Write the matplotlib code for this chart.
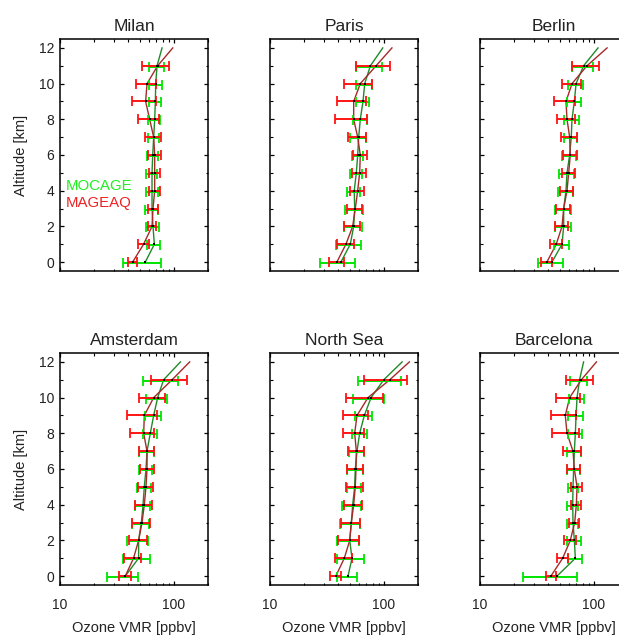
import matplotlib
matplotlib.use("Agg")
import matplotlib.pyplot as plt
import matplotlib.transforms as mtransforms
from matplotlib.ticker import LogLocator, NullFormatter, FixedLocator, MultipleLocator

plt.rcParams['font.family'] = ['Liberation Sans', 'DejaVu Sans']

# ---------------- data ----------------
altitudes = [0, 1, 2, 3, 4, 5, 6, 7, 8, 9, 10, 11, 12]   # km (line), error bars/dots at 0..11
cities = ["Milan", "Paris", "Berlin", "Amsterdam", "North Sea", "Barcelona"]

milan_mocage = [56.2, 67.5, 65.7, 64.4, 64.4, 64.4, 65.3, 66.6, 68.0, 68.9, 69.4, 71.3, 78.9]
milan_mocage_err = [20.5, 8.8, 8.8, 8.1, 7.6, 7.5, 7.0, 7.7, 8.3, 8.7, 9.2, 11.0]
milan_mageaq = [43.5, 54.3, 64.4, 65.7, 68.0, 68.0, 68.0, 66.6, 61.4, 56.6, 58.2, 72.2, 98.0]
milan_mageaq_err = [4.1, 6.0, 4.8, 6.5, 7.3, 8.0, 9.0, 10.6, 12.9, 13.5, 11.9, 19.2]

paris_mocage = [42.0, 50.8, 54.4, 55.5, 55.0, 57.4, 59.0, 60.2, 62.2, 65.7, 68.0, 76.3, 98.0]
paris_mocage_err = [14.3, 12.5, 9.7, 9.7, 7.3, 7.1, 6.8, 9.3, 8.9, 8.8, 10.9, 19.3]
paris_mageaq = [38.7, 46.5, 53.3, 56.2, 59.0, 61.4, 62.2, 59.0, 54.4, 54.4, 62.2, 85.6, 118.0]
paris_mageaq_err = [5.8, 7.8, 8.8, 8.4, 8.0, 8.3, 8.4, 10.9, 17.2, 15.9, 17.3, 28.7]

berlin_mocage = [42.9, 52.6, 54.4, 54.4, 57.0, 58.2, 61.4, 63.4, 64.4, 67.5, 69.9, 81.4, 109.0]
berlin_mocage_err = [10.3, 8.3, 9.0, 8.6, 8.3, 8.8, 8.7, 8.1, 9.1, 9.5, 10.2, 17.6]
berlin_mageaq = [38.7, 46.8, 52.6, 54.4, 58.2, 60.2, 62.2, 61.4, 58.2, 57.0, 64.4, 87.2, 131.0]
berlin_mageaq_err = [4.0, 5.9, 6.6, 8.0, 7.5, 7.6, 8.9, 9.4, 10.9, 12.1, 12.3, 23.0]

amsterdam_mocage = [37.5, 49.1, 49.1, 51.9, 53.7, 55.1, 57.0, 58.2, 62.2, 66.6, 72.2, 81.4, 114.5]
amsterdam_mocage_err = [11.4, 13.0, 10.5, 9.1, 7.6, 7.4, 7.7, 8.8, 8.9, 11.1, 15.5, 27.8]
amsterdam_mageaq = [37.5, 44.3, 49.1, 52.6, 55.1, 57.0, 58.2, 58.2, 54.4, 55.1, 66.6, 96.7, 138.0]
amsterdam_mageaq_err = [4.4, 7.5, 8.7, 9.4, 9.5, 8.7, 8.2, 9.2, 13.0, 16.0, 17.5, 33.0]

northsea_mocage = [48.5, 52.6, 50.2, 51.9, 53.3, 55.5, 56.2, 58.2, 61.4, 67.5, 77.3, 100.0, 145.0]
northsea_mocage_err = [9.8, 14.0, 11.0, 10.3, 10.0, 7.8, 9.1, 9.2, 9.3, 12.1, 23.8, 41.0]
northsea_mageaq = [37.9, 45.0, 50.2, 51.9, 54.4, 56.2, 57.0, 57.4, 55.5, 58.2, 72.7, 112.9, 168.0]
northsea_mageaq_err = [4.1, 7.7, 10.4, 9.6, 9.9, 9.2, 9.2, 9.2, 12.0, 14.3, 26.0, 46.0]

barcelona_mocage = [47.5, 68.9, 67.5, 65.7, 65.3, 65.7, 66.6, 67.5, 68.9, 69.9, 71.3, 75.0, 81.4]
barcelona_mocage_err = [23.4, 10.1, 9.7, 7.0, 7.0, 6.6, 8.5, 9.8, 9.7, 10.1, 10.6, 13.1]
barcelona_mageaq = [42.0, 53.3, 62.2, 68.0, 70.3, 71.3, 67.5, 65.7, 58.2, 56.2, 61.4, 77.8, 105.6]
barcelona_mageaq_err = [4.2, 5.5, 7.4, 6.9, 7.2, 7.7, 8.9, 11.8, 15.3, 13.9, 14.4, 20.9]

series = {
    "Milan": (milan_mocage, milan_mocage_err, milan_mageaq, milan_mageaq_err),
    "Paris": (paris_mocage, paris_mocage_err, paris_mageaq, paris_mageaq_err),
    "Berlin": (berlin_mocage, berlin_mocage_err, berlin_mageaq, berlin_mageaq_err),
    "Amsterdam": (amsterdam_mocage, amsterdam_mocage_err, amsterdam_mageaq, amsterdam_mageaq_err),
    "North Sea": (northsea_mocage, northsea_mocage_err, northsea_mageaq, northsea_mageaq_err),
    "Barcelona": (barcelona_mocage, barcelona_mocage_err, barcelona_mageaq, barcelona_mageaq_err),
}

# ---------------- figure ----------------
W, H = 619, 635
fig = plt.figure(figsize=(W / 100, H / 100), dpi=100)

col_left = [60, 270, 480]
row_top = [39, 353]
ax_w, ax_h = 148, 232

TEXT = '#222222'
LINE_GREEN = '#1f8a2a'
LINE_RED = '#a52a2a'
ERR_GREEN = '#00e600'
ERR_RED = '#ff1414'

for idx, city in enumerate(cities):
    r, c = divmod(idx, 3)
    ax = fig.add_axes([col_left[c] / W, 1 - (row_top[r] + ax_h) / H, ax_w / W, ax_h / H])
    moc, moc_err, mag, mag_err = series[city]
    n = len(moc_err)
    lv = altitudes[:n]

    ax.plot(moc, altitudes, color=LINE_GREEN, lw=1.0, zorder=2)
    ax.plot(mag, altitudes, color=LINE_RED, lw=1.0, zorder=2)

    off_g = mtransforms.offset_copy(ax.transData, fig=fig, x=0, y=-1.0, units='dots')
    ax.errorbar(moc[:n], lv, xerr=moc_err, fmt='none', ecolor=ERR_GREEN,
                elinewidth=1.4, capsize=3.8, capthick=1.3, zorder=3, transform=off_g)
    ax.errorbar(mag[:n], lv, xerr=mag_err, fmt='none', ecolor=ERR_RED,
                elinewidth=1.4, capsize=3.8, capthick=1.3, zorder=4)
    ax.plot(moc[:n], lv, 's', color='black', ms=2.1, mew=0, zorder=5)
    ax.plot(mag[:n], lv, 's', color='black', ms=2.1, mew=0, zorder=5)

    ax.set_xscale('log')
    ax.set_xlim(10, 200)
    ax.set_ylim(-0.5, 12.5)
    ax.xaxis.set_major_locator(FixedLocator([10, 100]))
    ax.xaxis.set_minor_locator(LogLocator(base=10, subs=range(2, 10)))
    ax.xaxis.set_minor_formatter(NullFormatter())
    ax.yaxis.set_major_locator(MultipleLocator(2))
    ax.yaxis.set_minor_locator(MultipleLocator(1))

    ax.tick_params(which='both', direction='in', top=True, right=True, colors='black',
                   labelcolor=TEXT, labelsize=10)
    ax.tick_params(which='major', length=3.0, width=0.9)
    ax.tick_params(which='minor', length=1.8, width=0.8)
    ax.tick_params(axis='x', pad=9.5)
    ax.tick_params(axis='y', pad=4)
    for sp in ax.spines.values():
        sp.set_linewidth(1.1)

    if r == 1:
        ax.set_xticklabels(['10', '100'])
        ax.set_xlabel('Ozone VMR [ppbv]', fontsize=10.5, color=TEXT, labelpad=6)
    else:
        ax.tick_params(axis='x', labelbottom=False)
    if c == 0:
        ax.set_ylabel('Altitude [km]', fontsize=10.5, color=TEXT, labelpad=8)
    else:
        ax.tick_params(axis='y', labelleft=False)

    ax.set_title(city, fontsize=12.5, color=TEXT, pad=6)

    if idx == 0:
        ax.text(0.038, 0.366, 'MOCAGE', transform=ax.transAxes, color='#22ee22',
                fontsize=10.8, va='center', ha='left')
        ax.text(0.038, 0.295, 'MAGEAQ', transform=ax.transAxes, color='#ee2222',
                fontsize=10.8, va='center', ha='left')

fig.savefig('out.png', dpi=100)
